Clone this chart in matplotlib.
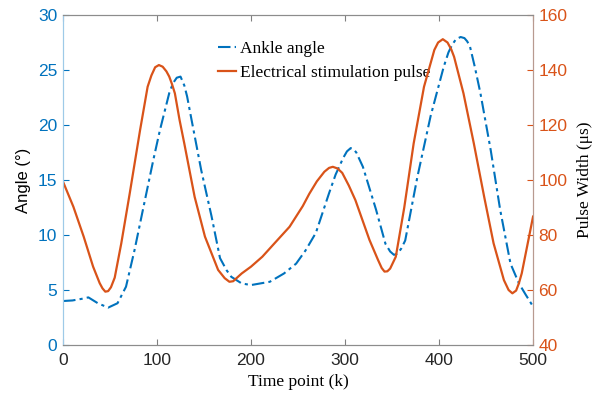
#!/usr/bin/env python3
"""Ankle angle vs. electrical stimulation pulse width, dual y-axis."""

import matplotlib
matplotlib.use("Agg")
import matplotlib.pyplot as plt

# ankle angle (deg), left axis
angle_k = [0, 10, 20, 27, 37, 48, 58, 67, 76, 85, 96, 103, 113, 117, 121,
           125, 129, 132, 136, 147, 158, 167, 174, 179, 190, 200, 220, 235,
           248, 258, 269, 276, 283, 290, 298, 302, 306, 309, 312, 319, 333,
           343, 348, 352, 356, 360, 364, 377, 391, 405, 410, 414, 418, 423,
           427, 430, 433, 438, 444, 455, 465, 476, 485, 492, 500]
angle_deg = [4.0, 4.05, 4.2, 4.33, 3.8, 3.4, 3.8, 5.3, 8.6, 12.3, 16.8, 19.5,
             22.9, 23.8, 24.3, 24.4, 23.6, 22.6, 20.8, 15.9, 11.7, 7.9, 6.8,
             6.2, 5.6, 5.45, 5.75, 6.5, 7.4, 8.6, 10.2, 12.0, 13.8, 15.5,
             17.0, 17.6, 17.9, 17.8, 17.5, 16.2, 12.3, 9.2, 8.5, 8.2, 8.3,
             8.8, 9.5, 15.3, 20.8, 25.3, 26.6, 27.3, 27.8, 28.0, 27.9, 27.6,
             27.1, 25.3, 22.9, 17.7, 12.3, 7.4, 5.6, 4.6, 3.5]

# stimulation pulse width (us), right axis
pulse_k = [0, 11, 22, 32, 39, 42, 45, 48, 51, 55, 62, 71, 82, 90, 94, 98,
           102, 106, 110, 113, 116, 119, 124, 129, 140, 151, 165, 172, 177,
           181, 190, 200, 212, 225, 241, 255, 262, 270, 278, 283, 287, 292,
           297, 304, 311, 326, 335, 339, 342, 345, 348, 354, 363, 373, 384,
           395, 399, 404, 409, 413, 416, 426, 437, 448, 458, 469, 474, 478,
           482, 485, 488, 500]
pulse_us = [99.4, 90.3, 79.4, 68.5, 62.5, 60.6, 59.4, 59.6, 61.0, 64.5, 77.0,
            95.2, 118.2, 133.9, 138.0, 141.0, 141.8, 141.2, 139.5, 137.6,
            134.8, 131.5, 121.8, 113.3, 93.9, 79.4, 67.3, 64.3, 63.0, 63.2,
            66.0, 68.5, 72.1, 77.0, 83.0, 90.5, 95.0, 99.5, 103.0, 104.4,
            104.8, 104.2, 102.6, 98.0, 92.7, 78.2, 71.0, 68.0, 66.7, 66.8,
            67.8, 72.1, 90.0, 113.3, 133.9, 147.3, 150.0, 151.2, 150.0, 147.5,
            144.8, 131.5, 113.3, 93.9, 77.0, 63.6, 60.0, 58.8, 59.8, 62.5,
            66.1, 86.7]

x_ticks = [0, 100, 200, 300, 400, 500]
left_ticks = [0, 5, 10, 15, 20, 25, 30]
right_ticks = [40, 60, 80, 100, 120, 140, 160]

BLUE = "#0072BD"
ORANGE = "#D95319"
SERIF = "Liberation Serif"
SANS = "Liberation Sans"

fig = plt.figure(figsize=(6.03, 3.99), dpi=100)
ax = fig.add_axes([0.1045, 0.1353, 0.7795, 0.8271])
ax2 = ax.twinx()

l1, = ax.plot(angle_k, angle_deg, color=BLUE, lw=1.5,
              linestyle=(0, (6, 2, 1.5, 2)), label="Ankle angle")
l2, = ax2.plot(pulse_k, pulse_us, color=ORANGE, lw=1.6,
               label="Electrical stimulation pulse")

ax.set_xlim(0, 500)
ax.set_ylim(0, 30)
ax2.set_ylim(40, 160)
ax.set_xticks(x_ticks)
ax.set_yticks(left_ticks)
ax2.set_yticks(right_ticks)

ax.tick_params(axis="x", direction="in", top=True, length=4, color="#808080",
               labelsize=12.5, labelcolor="#262626", pad=6)
ax.tick_params(axis="y", direction="in", length=4, color=BLUE,
               labelsize=12.5, labelcolor=BLUE, pad=4)
ax2.tick_params(axis="y", direction="in", length=4, color=ORANGE,
                labelsize=12.5, labelcolor=ORANGE, pad=4)
for lab in ax.get_xticklabels() + ax.get_yticklabels() + ax2.get_yticklabels():
    lab.set_fontfamily(SANS)

for a in (ax, ax2):
    a.spines["top"].set_color("#8c8c8c")
    a.spines["bottom"].set_color("#8c8c8c")
    a.spines["left"].set_color("#9ecae8")
    a.spines["right"].set_color("#b89a90")

ax.set_xlabel("Time point (k)", fontsize=12.5, family=SERIF, labelpad=4)
ax.set_ylabel("Angle (°)", fontsize=12, family=SANS, labelpad=5)
ax2.set_ylabel("Pulse Width (μs)", fontsize=12.5, family=SERIF, labelpad=7)

ax.legend([l1, l2], [l1.get_label(), l2.get_label()], loc="upper left",
          bbox_to_anchor=(0.296, 0.97), frameon=False,
          prop={"family": SERIF, "size": 12.5}, handlelength=1.05,
          handletextpad=0.25, labelspacing=0.45)

fig.savefig("out.png", dpi=100)
